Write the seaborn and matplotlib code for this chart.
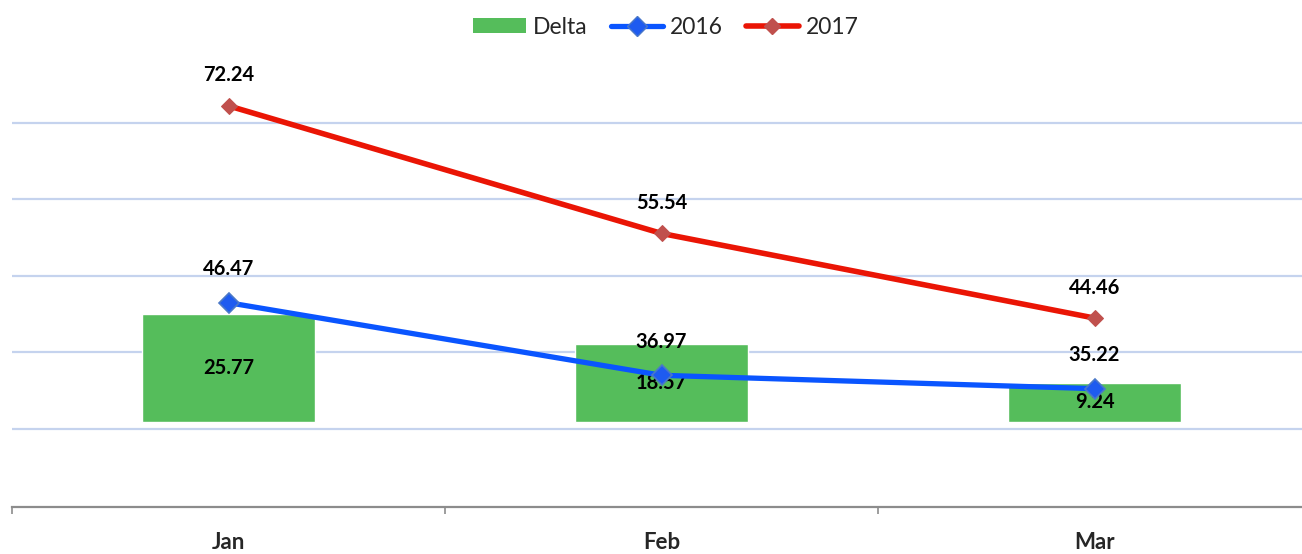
# Delta vs 2016 / 2017 combo chart
import numpy as np
import pandas as pd
import matplotlib
matplotlib.use("Agg")
import matplotlib.pyplot as plt
from matplotlib.lines import Line2D
from matplotlib.patches import Patch
import seaborn as sns

# Data
months = ["Jan", "Feb", "Mar"]
values_2016 = [46.47, 36.97, 35.22]
values_2017 = [72.24, 55.54, 44.46]
delta = [25.77, 18.57, 9.24]

df = pd.DataFrame({"Month": months, "Delta": delta})

# Style
sns.set_style("white")
plt.rcParams["font.family"] = ["Lato", "DejaVu Sans"]

green = "#55BD5B"
blue = "#0A55FF"
red = "#EA1505"
grid_color = "#C5D3EE"

# axis ranges (lines on primary scale, bars on secondary scale)
line_lo, line_hi = 19.73, 79.55
bar_lo, bar_hi = -20.4, 88.9

fig = plt.figure(figsize=(13.02, 5.54), dpi=100)
ax = fig.add_axes([12 / 1302, 47 / 554, 1299 / 1302, 457 / 554])

# Bars (bottom axes so gridlines stay behind them)
sns.barplot(data=df, x="Month", y="Delta", color=green, saturation=1,
            width=0.4, ax=ax, zorder=2)
ax.set_ylim(bar_lo, bar_hi)
ax.set_xlim(-0.5, 2.5)

# gridlines at 30..70 of the line scale, drawn on the bar axes
grid_vals = np.array([30, 40, 50, 60, 70])
grid_pos = bar_lo + (grid_vals - line_lo) * (bar_hi - bar_lo) / (line_hi - line_lo)
ax.set_yticks(grid_pos)
ax.set_yticklabels([])
ax.yaxis.grid(True, color=grid_color, linewidth=1.6)
ax.set_axisbelow(True)
ax.tick_params(axis="y", length=0)

for i, v in enumerate(delta):
    ax.text(i, v / 2, f"{v:.2f}", ha="center", va="center",
            fontsize=14.5, fontweight="bold", color="black", zorder=5)

# Lines on twin axes (drawn above the bars)
ax2 = ax.twinx()
x = np.arange(len(months))
sns.lineplot(x=x, y=values_2016, ax=ax2, color=blue, linewidth=3.8,
             marker="D", markersize=10, markerfacecolor="#1E5BF0",
             markeredgecolor="#4A78C8", markeredgewidth=1.2)
sns.lineplot(x=x, y=values_2017, ax=ax2, color=red, linewidth=4.0,
             marker="D", markersize=8.5, markerfacecolor="#C0504D",
             markeredgecolor="#C0504D")
ax2.set_ylim(line_lo, line_hi)
ax2.set_yticks([])

for vals, off in ((values_2016, 24), (values_2017, 22)):
    for i, v in enumerate(vals):
        ax2.annotate(f"{v:.2f}", (i, v), xytext=(0, off), textcoords="offset points",
                     ha="center", va="center", fontsize=14.5, fontweight="bold",
                     color="black")

# Spines / ticks
for a in (ax, ax2):
    for s in ("top", "left", "right"):
        a.spines[s].set_visible(False)
ax2.spines["bottom"].set_visible(False)
ax.spines["bottom"].set_color("#8C8C8C")
ax.spines["bottom"].set_linewidth(1.6)

ax.set_xticks(x)
ax.set_xticklabels(months, fontsize=16, fontweight="bold")
ax.set_xticks([-0.5, 0.5, 1.5, 2.5], minor=True)
ax.tick_params(axis="x", which="major", bottom=True, length=0, pad=18)
ax.tick_params(axis="x", which="minor", bottom=True, length=5, width=1.2,
               color="#8C8C8C", direction="out")
ax.set_xlabel("")
ax.set_ylabel("")
ax2.set_ylabel("")

# Legend
handles = [
    Patch(facecolor=green, edgecolor="none"),
    Line2D([], [], color=blue, linewidth=3.8, marker="D", markersize=10,
           markerfacecolor="#1E5BF0", markeredgecolor="#4A78C8"),
    Line2D([], [], color=red, linewidth=4.0, marker="D", markersize=8.5,
           markerfacecolor="#C0504D", markeredgecolor="#C0504D"),
]
fig.legend(handles, ["Delta", "2016", "2017"], loc="center",
           bbox_to_anchor=(0.5115, 0.951), ncol=3, frameon=False,
           fontsize=16.5, handlelength=2.3, handleheight=0.6,
           handletextpad=0.3, columnspacing=1.0)

fig.savefig("out.png", dpi=100)
